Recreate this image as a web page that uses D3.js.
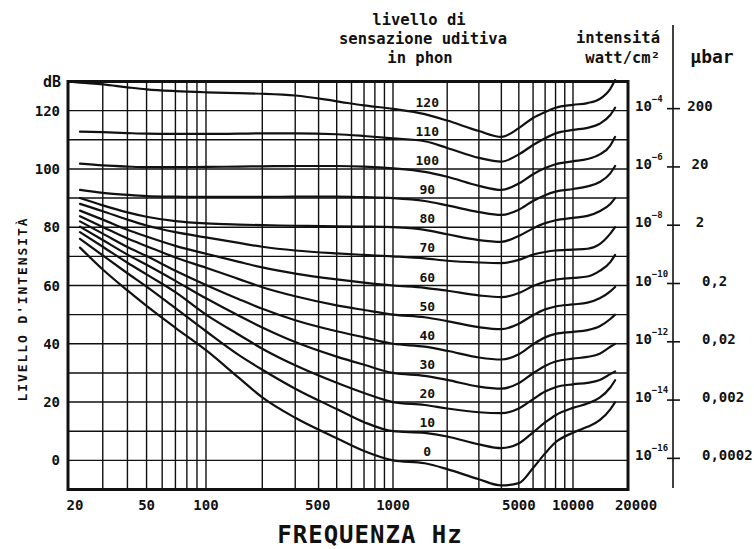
<!DOCTYPE html>
<html>
<head>
<meta charset="utf-8">
<script src="https://cdn.jsdelivr.net/npm/d3@7"></script>
<style>
  html, body { margin: 0; padding: 0; background: #fff; }
  svg { display: block; }
  text { font-family: "DejaVu Sans Mono", monospace; font-weight: bold; fill: #111; }
</style>
</head>
<body>
<svg id="chart" width="754" height="549"></svg>
<script>
// Equal-loudness contours (livello di sensazione uditiva, phon)

// Frequencies (Hz) at which each contour is sampled
const freqs = [20, 23, 30, 40, 50, 70, 100, 150, 200, 300, 500, 700, 1000, 1500, 2000, 3000, 4000, 5000, 6000, 7000, 8000, 10000, 12000, 14000, 16000, 17000];

// Intensity level (dB) of each contour at those frequencies
const phon120 = [130, 129.6, 129, 128, 127.3, 126.7, 126.3, 126, 125.8, 125.2, 123.2, 121.8, 120.6, 118.8, 116.6, 113, 111, 114, 117.5, 119.5, 121, 122, 122.6, 124, 127.5, 130.5];
const phon110 = [null, 112.8, 112.6, 112.3, 112.1, 112, 112, 112.1, 112.2, 112.2, 111.9, 111.3, 110.5, 109.5, 107.2, 103.8, 102.5, 105, 108.2, 110.5, 112.2, 113.4, 114.1, 115.5, 118.5, 121];
const phon100 = [null, 101.8, 101.2, 100.8, 100.6, 100.6, 100.7, 100.8, 100.9, 101, 101, 100.8, 100.2, 99, 97.3, 94.2, 92.8, 95, 98.2, 100.3, 101.6, 102.6, 103.4, 105, 108, 111];
const phon90  = [null, 92.8, 91.8, 91.1, 90.7, 90.5, 90.4, 90.4, 90.4, 90.5, 90.5, 90.3, 90, 89, 87.5, 85.2, 84.2, 86, 89, 91, 92.2, 93.1, 94, 95.5, 98.5, 101];
const phon80  = [null, 90, 87.5, 85.1, 83.6, 82.1, 81.3, 80.9, 80.7, 80.5, 80.3, 80.2, 80, 79.1, 77.6, 75.6, 75, 77, 79.6, 81.4, 82.4, 83.2, 83.9, 85.5, 88, 90];
const phon70  = [null, 88, 85.5, 82.6, 80.6, 78.3, 76.5, 74.6, 73.3, 72, 71, 70.5, 70, 69.3, 68.5, 67.9, 67.7, 68.8, 70.6, 71.5, 72, 72.3, 72.6, 74.2, 77.8, 80];
const phon60  = [null, 85.7, 82.6, 79.1, 76.8, 73.6, 70.9, 68.1, 66.2, 64.1, 62.1, 61, 60, 59.2, 58.2, 56.6, 56, 57.4, 59.8, 61.3, 62, 62.6, 63.1, 65, 68, 70.5];
const phon50  = [null, 83.8, 80.1, 76.1, 73.5, 69.6, 66.1, 62.2, 59.4, 56.3, 53.2, 51.6, 50, 49.1, 47.8, 45.7, 45, 46.9, 49.8, 51.8, 52.8, 53.5, 54.1, 55.6, 58, 59.5];
const phon40  = [null, 82, 77.8, 73.2, 70.1, 65.1, 60.2, 55.3, 52, 48.1, 44.3, 42.2, 40, 39, 37.6, 35.3, 34.6, 36.4, 39.8, 42.2, 43.4, 44.1, 44.7, 46, 48.5, 50];
const phon30  = [null, 80.2, 75.6, 70.6, 67.1, 61.6, 55.6, 49.6, 45.6, 40.6, 35.6, 32.8, 30, 29, 27.6, 25.3, 24.6, 26.5, 29.9, 32.4, 33.9, 34.9, 35.5, 36.6, 39, 40];
const phon20  = [null, 78.3, 73.3, 67.8, 63.8, 57.7, 50, 43.1, 38.3, 32.6, 26.6, 23.1, 20, 19, 17.8, 16.5, 16.2, 17.8, 21, 23.6, 25.1, 26.1, 26.6, 27.6, 29.6, 30.5];
const phon10  = [null, 76, 70.3, 64.2, 59.6, 52.2, 44.3, 36.1, 31.1, 24.6, 17.6, 13.1, 10, 9.4, 8.2, 5.5, 4.2, 5.8, 9.6, 13, 15.5, 18, 19.5, 21.5, 25, 27.5];
const phon0   = [null, 73, 65.5, 58.3, 53, 45.5, 37.8, 28.3, 21.6, 14.6, 7.6, 3.2, 0, -1, -3, -6.5, -8.6, -7.8, -2.6, 2.4, 6.2, 9.5, 11.5, 13.8, 17.5, 20];

const phonLevels = [0, 10, 20, 30, 40, 50, 60, 70, 80, 90, 100, 110, 120];
const contours = [phon0, phon10, phon20, phon30, phon40, phon50, phon60, phon70, phon80, phon90, phon100, phon110, phon120];

// Axis labels
const freqLabels = [20, 50, 100, 500, 1000, 5000, 10000, 20000];
const dbLabels = [0, 20, 40, 60, 80, 100, 120];
const intensityExponents = [-16, -14, -12, -10, -8, -6, -4];
const pressureLabels = ["0,0002", "0,002", "0,02", "0,2", "2", "20", "200"];

const svg = d3.select("#chart");

// logarithmic frequency axis, hand-ruled decades are slightly uneven
const x = d3.scaleLog()
  .domain([20, 100, 1000, 10000, 20000])
  .range([68, 206, 393, 573, 628]);
const y = d3.scaleLinear()
  .domain([-10, 130])
  .range([489.5, 81.5]);

const [x0, x1] = [x(20), x(20000)];
const [yTop, yBot] = [y(130), y(-10)];

// grid
const grid = svg.append("g").attr("stroke", "#111").attr("stroke-width", 1.4);
grid.selectAll("line.v")
  .data(x.ticks().filter(f => f > 20 && f < 20000))
  .join("line")
  .attr("x1", d => x(d)).attr("x2", d => x(d))
  .attr("y1", yTop).attr("y2", yBot);
grid.selectAll("line.h")
  .data(d3.range(0, 121, 10))
  .join("line")
  .attr("x1", x0).attr("x2", x1)
  .attr("y1", d => y(d)).attr("y2", d => y(d));

// contours
const line = d3.line()
  .x(d => x(d.f))
  .y(d => y(d.db))
  .curve(d3.curveMonotoneX);

svg.append("g")
  .attr("fill", "none")
  .attr("stroke", "#111")
  .attr("stroke-width", 2.2)
  .attr("stroke-linejoin", "round")
  .attr("stroke-linecap", "round")
  .selectAll("path")
  .data(contours)
  .join("path")
  .attr("d", vals => line(freqs.map((f, i) => ({ f, db: vals[i] })).filter(d => d.db !== null)));

// frame
svg.append("rect")
  .attr("x", x0).attr("y", yTop)
  .attr("width", x1 - x0).attr("height", yBot - yTop)
  .attr("fill", "none").attr("stroke", "#111").attr("stroke-width", 3);

// phon labels
svg.append("g")
  .selectAll("text")
  .data(phonLevels)
  .join("text")
  .attr("x", x(1550))
  .attr("y", d => y(d) - 4)
  .attr("text-anchor", "middle")
  .attr("font-size", 13)
  .text(d => d);

// left axis labels
svg.append("g")
  .selectAll("text")
  .data(dbLabels)
  .join("text")
  .attr("x", 60)
  .attr("y", d => y(d))
  .attr("dy", "0.36em")
  .attr("text-anchor", "end")
  .attr("font-size", 14)
  .text(d => d);
svg.append("text")
  .attr("x", 61).attr("y", 87)
  .attr("text-anchor", "end")
  .attr("font-size", 15)
  .text("dB");

// bottom axis labels
const freqNudge = { 20: 7, 500: -19, 20000: 8 };
svg.append("g")
  .selectAll("text")
  .data(freqLabels)
  .join("text")
  .attr("x", d => x(d) + (freqNudge[d] || 0))
  .attr("y", 510)
  .attr("text-anchor", "middle")
  .attr("font-size", 14)
  .text(d => d);

// axis titles
svg.append("text")
  .attr("transform", "translate(27,309) rotate(-90)")
  .attr("text-anchor", "middle")
  .attr("font-size", 13)
  .attr("font-weight", "normal")
  .attr("letter-spacing", 1.9)
  .text("LIVELLO  D'INTENSITÀ");
svg.append("text")
  .attr("x", 370).attr("y", 543)
  .attr("text-anchor", "middle")
  .attr("font-size", 24)
  .attr("letter-spacing", 1)
  .text("FREQUENZA Hz");

// header
const head = svg.append("g").attr("text-anchor", "middle").attr("font-size", 15.5);
head.append("text").attr("x", 419).attr("y", 25).text("livello di");
head.append("text").attr("x", 423).attr("y", 44).text("sensazione uditiva");
head.append("text").attr("x", 420).attr("y", 63).text("in phon");

const headR = svg.append("g").attr("text-anchor", "end").attr("font-size", 15.5);
headR.append("text").attr("x", 660).attr("y", 43).text("intensitá");
headR.append("text").attr("x", 660).attr("y", 63).text("watt/cm²");
svg.append("text").attr("x", 712).attr("y", 63)
  .attr("text-anchor", "middle").attr("font-size", 18).text("µbar");

// right scales: intensity (W/cm²) and pressure (µbar)
const rightAxisX = 673;
svg.append("line")
  .attr("x1", rightAxisX).attr("x2", rightAxisX)
  .attr("y1", 25).attr("y2", 488)
  .attr("stroke", "#111").attr("stroke-width", 1.6);
svg.append("g")
  .selectAll("line")
  .data(dbLabels)
  .join("line")
  .attr("x1", rightAxisX - 6).attr("x2", rightAxisX + 7)
  .attr("y1", d => y(d) - 2).attr("y2", d => y(d) - 2)
  .attr("stroke", "#111").attr("stroke-width", 1.6);

const intens = svg.append("g")
  .selectAll("text")
  .data(dbLabels.map((db, i) => ({ db, e: intensityExponents[i] })))
  .join("text")
  .attr("x", 635)
  .attr("y", d => y(d.db))
  .attr("font-size", 14);
intens.append("tspan").text("10");
intens.append("tspan")
  .attr("dy", -9)
  .attr("font-size", 9)
  .text(d => "−" + Math.abs(d.e));

svg.append("g")
  .selectAll("text")
  .data(dbLabels.map((db, i) => ({ db, s: pressureLabels[i] })))
  .join("text")
  .attr("x", d => d.s.startsWith("0") ? 702 : 700)
  .attr("y", d => y(d.db))
  .attr("text-anchor", d => d.s.startsWith("0") ? "start" : "middle")
  .attr("font-size", 14)
  .text(d => d.s);
</script>
</body>
</html>
